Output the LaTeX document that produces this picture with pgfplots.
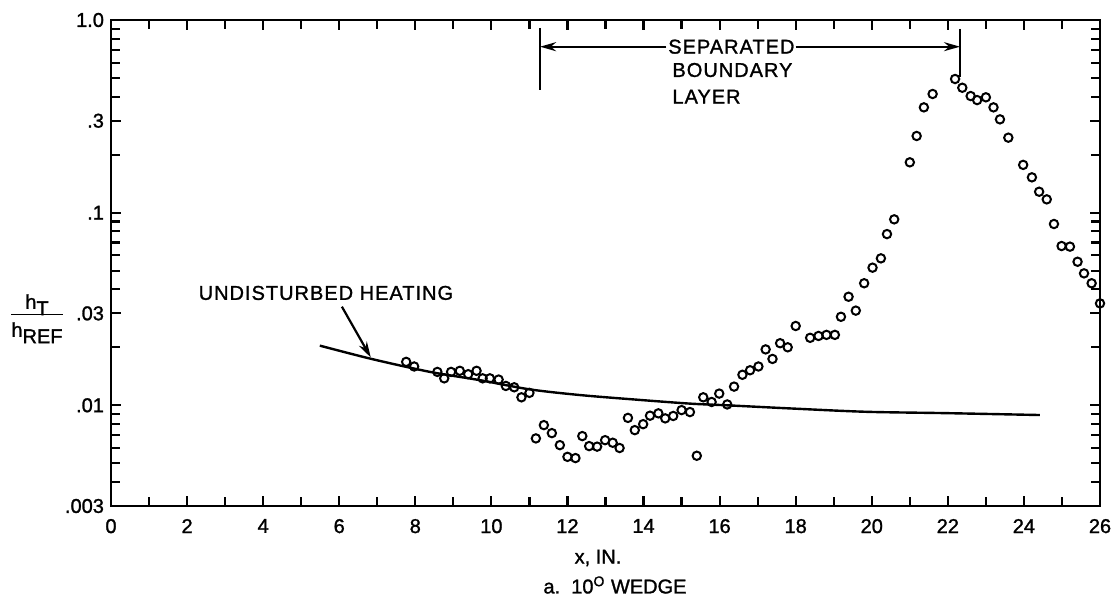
\documentclass[border=0pt]{standalone}
\usepackage{fontspec}
\setmainfont{Liberation Sans}[AutoFakeBold=1.3]
\newfontfamily\annot{Liberation Sans}[LetterSpace=5,AutoFakeBold=1.3]
\usepackage{pgfplots}
\pgfplotsset{compat=1.18}
\usetikzlibrary{arrows.meta}

\begin{document}
\begin{tikzpicture}[font=\fontsize{10}{12}\selectfont\bfseries]
\useasboundingbox (-55.5pt,-46.5pt) rectangle (504pt,253pt);
\begin{axis}[
  scale only axis, width=494.5pt, height=243pt,
  at={(0,0)}, anchor=south west,
  xmin=0, xmax=26,
  ymode=log, ymin=0.003, ymax=1,
  xtick={0,2,...,26}, minor xtick={1,3,...,25},
  ytick={0.003,0.01,0.03,0.1,0.3,1},
  yticklabels={.003,.01,.03,.1,.3,1.0},
  minor ytick={0.004,0.005,0.006,0.007,0.008,0.009,0.02,0.04,0.05,0.06,0.07,0.08,0.09,0.2,0.4,0.5,0.6,0.7,0.8,0.9},
  tick align=inside,
  major tick length=5pt, minor tick length=4.5pt,
  axis line style={line width=1.3pt},
  every tick/.style={black, line width=1.1pt},
  xticklabel style={yshift=-3pt, font=\fontsize{10}{12}\selectfont\bfseries},
  yticklabel style={font=\fontsize{10}{12}\selectfont\bfseries},
  /pgf/number format/assume math mode=true,
  clip=false,
]
% undisturbed heating
\addplot[black, line width=1.2pt, smooth, no marks] coordinates {
  (5.49,0.0204)(6.85,0.0174)(8.39,0.0149)(9.7,0.0135)(11.0,0.0121)
  (12.33,0.0113)(13.8,0.0107)(15.22,0.0102)(16.18,0.0100)(18.0,0.0096)
  (19.86,0.00925)(22.0,0.0091)(24.42,0.0089)
};
% measured data
\addplot[black, only marks, mark=o, mark size=2.1pt, mark options={line width=1pt}] coordinates {
  (7.76,0.0168)(7.97,0.0159)(8.58,0.0149)(8.76,0.0138)(8.94,0.0149)
  (9.17,0.0151)(9.39,0.0145)(9.61,0.0151)(9.77,0.0138)(9.96,0.0138)
  (10.19,0.0136)(10.38,0.0126)(10.60,0.0124)(10.79,0.0110)(11.00,0.0116)
  (11.17,0.00673)(11.38,0.00789)(11.59,0.00717)(11.80,0.00621)(12.00,0.00540)
  (12.21,0.00532)(12.39,0.00692)(12.57,0.00614)(12.78,0.00610)(12.99,0.00659)
  (13.19,0.00639)(13.37,0.00600)(13.59,0.00860)(13.77,0.00743)(13.99,0.00798)
  (14.17,0.00883)(14.39,0.00908)(14.57,0.00855)(14.78,0.00880)(15.00,0.00944)
  (15.22,0.00922)(15.40,0.00547)(15.57,0.0110)(15.79,0.0104)(15.99,0.0115)
  (16.20,0.0101)(16.38,0.0125)(16.60,0.0144)(16.80,0.0152)(17.02,0.0159)
  (17.21,0.0195)(17.39,0.0174)(17.59,0.0210)(17.79,0.0200)(18.00,0.0258)
  (18.38,0.0224)(18.60,0.0229)(18.81,0.0232)(19.03,0.0232)(19.19,0.0288)
  (19.39,0.0366)(19.58,0.0310)(19.80,0.0430)(20.02,0.0518)(20.24,0.0579)
  (20.40,0.0774)(20.59,0.0923)(21.00,0.1825)(21.18,0.250)(21.37,0.352)
  (21.60,0.413)(22.19,0.494)(22.38,0.445)(22.60,0.403)(22.77,0.384)
  (23.00,0.397)(23.20,0.352)(23.37,0.305)(23.59,0.245)(23.98,0.177)
  (24.21,0.1525)(24.40,0.1284)(24.60,0.1172)(24.79,0.0873)(24.99,0.0671)
  (25.21,0.0666)(25.41,0.0556)(25.58,0.0484)(25.78,0.0430)(26.00,0.0338)
};
% annotations
\node at (axis cs:5.65,0.0383) {\annot\bfseries UNDISTURBED HEATING};
\draw[line width=1.1pt, -{Stealth[length=8pt,width=4.5pt]}] (axis cs:6.07,0.0325) -- (axis cs:6.83,0.0177);
\draw[line width=0.6pt] (axis cs:11.28,0.909) -- (axis cs:11.28,0.433);
\draw[line width=0.6pt] (axis cs:22.32,0.90) -- (axis cs:22.32,0.506);
\draw[line width=1.1pt, -{Stealth[length=8pt,width=4.5pt]}] (axis cs:14.6,0.727) -- (axis cs:11.28,0.727);
\draw[line width=1.1pt, -{Stealth[length=8pt,width=4.5pt]}] (axis cs:18.0,0.727) -- (axis cs:22.32,0.727);
\node[anchor=west, inner sep=0pt] at (axis cs:14.64,0.727) {\annot\bfseries SEPARATED};
\node[anchor=west, inner sep=0pt] at (axis cs:14.75,0.550) {\annot\bfseries BOUNDARY};
\node[anchor=west, inner sep=0pt] at (axis cs:14.75,0.400) {\annot\bfseries LAYER};
\end{axis}
\node at (243.5pt,-26pt) {x, IN.};
\node at (252pt,-39.5pt) {a.\ \ 10\textsuperscript{O} WEDGE};
\node at (-37pt,94pt) {\begin{tabular}{@{}c@{}}h\raisebox{-0.6ex}{T}\\[-1pt]\hline\rule{0pt}{11pt}h\raisebox{-0.6ex}{REF}\end{tabular}};
\end{tikzpicture}
\end{document}
